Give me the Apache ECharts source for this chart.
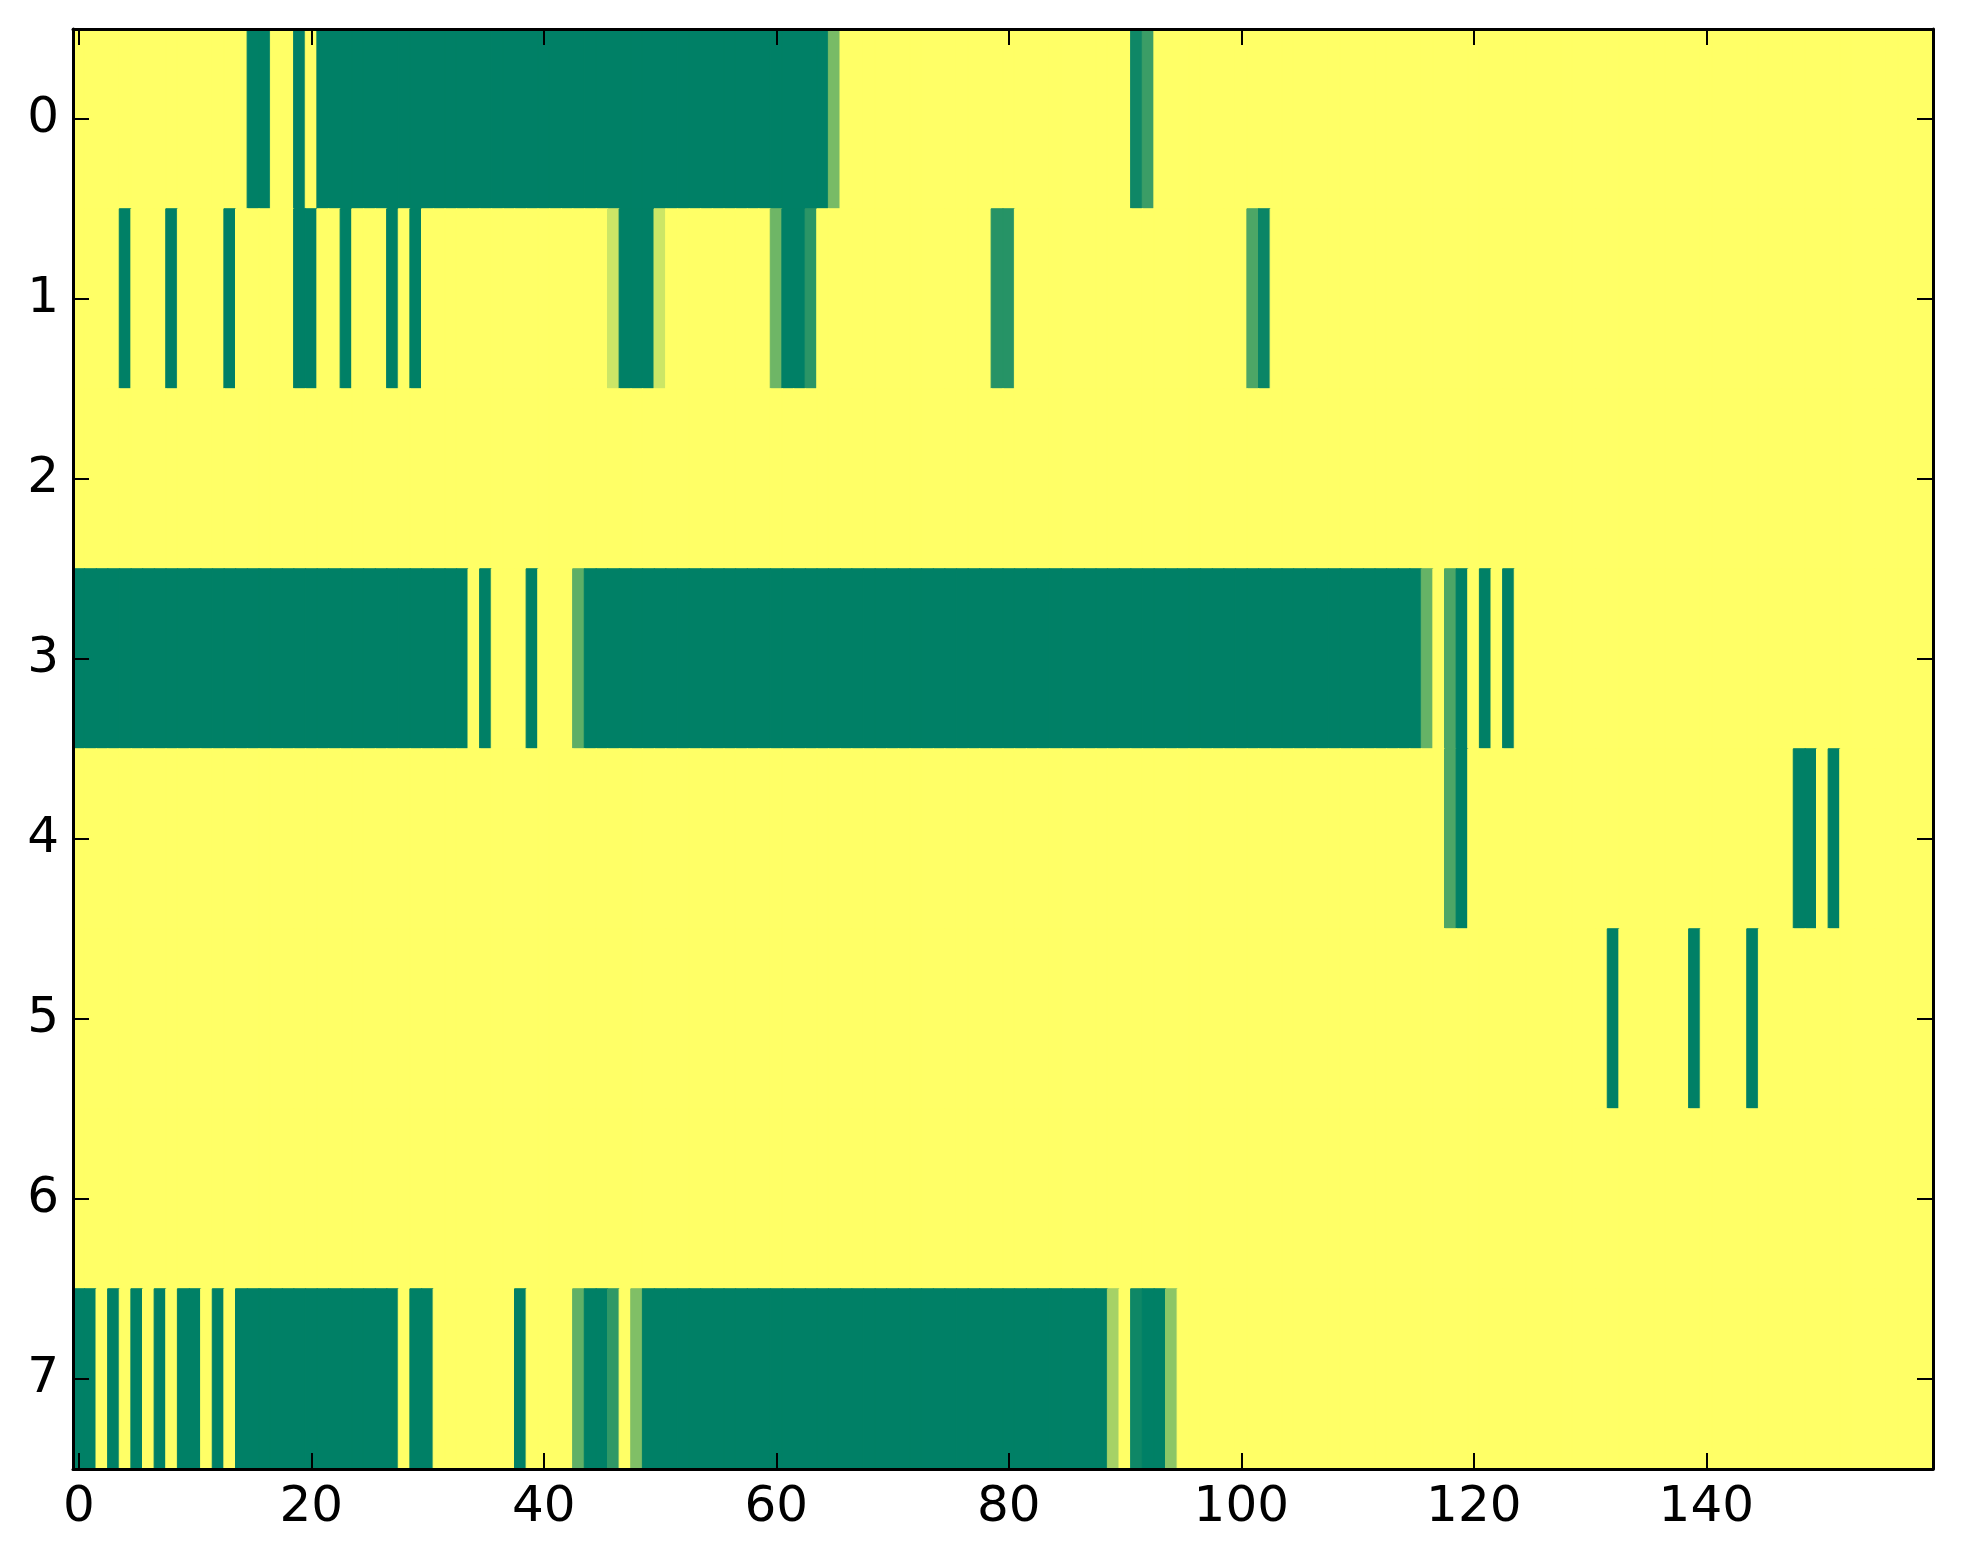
<!DOCTYPE html>
<html>
<head>
<meta charset="utf-8">
<script src="https://cdn.jsdelivr.net/npm/echarts@6/dist/echarts.min.js"></script>
<style>
html,body{margin:0;padding:0;background:#fff;}
#chart{width:1963px;height:1564px;}
</style>
</head>
<body>
<div id="chart"></div>
<script>
// x categories (column indices) and y categories (row indices)
var xCategories = [];
for (var c = 0; c < 160; c++) xCategories.push(String(c));
var yCategories = ['0','1','2','3','4','5','6','7'];
var xTickLabels = [0, 20, 40, 60, 80, 100, 120, 140];

// cell values per row (0 = dark green, 1 = yellow), 160 columns each
var row0 = [
1,1,1,1,1,1,1,1,1,1, 1,1,1,1,1,0,0,1,1,0, 1,0,0,0,0,0,0,0,0,0, 0,0,0,0,0,0,0,0,0,0,
0,0,0,0,0,0,0,0,0,0, 0,0,0,0,0,0,0,0,0,0, 0,0,0,0,0,0.47,1,1,1,1, 1,1,1,1,1,1,1,1,1,1,
1,1,1,1,1,1,1,1,1,1, 1,0.06,0.23,1,1,1,1,1,1,1, 1,1,1,1,1,1,1,1,1,1, 1,1,1,1,1,1,1,1,1,1,
1,1,1,1,1,1,1,1,1,1, 1,1,1,1,1,1,1,1,1,1, 1,1,1,1,1,1,1,1,1,1, 1,1,1,1,1,1,1,1,1,1
];
var row1 = [
1,1,1,1,0,1,1,1,0,1, 1,1,1,0,1,1,1,1,1,0, 0,1,1,0,1,1,1,0,1,0, 1,1,1,1,1,1,1,1,1,1,
1,1,1,1,1,1,0.8,0,0,0, 0.8,1,1,1,1,1,1,1,1,1, 0.43,0,0,0.17,1,1,1,1,1,1, 1,1,1,1,1,1,1,1,1,0.15,
0.15,1,1,1,1,1,1,1,1,1, 1,1,1,1,1,1,1,1,1,1, 1,0.3,0.04,1,1,1,1,1,1,1, 1,1,1,1,1,1,1,1,1,1,
1,1,1,1,1,1,1,1,1,1, 1,1,1,1,1,1,1,1,1,1, 1,1,1,1,1,1,1,1,1,1, 1,1,1,1,1,1,1,1,1,1
];
var row2 = [
1,1,1,1,1,1,1,1,1,1, 1,1,1,1,1,1,1,1,1,1, 1,1,1,1,1,1,1,1,1,1, 1,1,1,1,1,1,1,1,1,1,
1,1,1,1,1,1,1,1,1,1, 1,1,1,1,1,1,1,1,1,1, 1,1,1,1,1,1,1,1,1,1, 1,1,1,1,1,1,1,1,1,1,
1,1,1,1,1,1,1,1,1,1, 1,1,1,1,1,1,1,1,1,1, 1,1,1,1,1,1,1,1,1,1, 1,1,1,1,1,1,1,1,1,1,
1,1,1,1,1,1,1,1,1,1, 1,1,1,1,1,1,1,1,1,1, 1,1,1,1,1,1,1,1,1,1, 1,1,1,1,1,1,1,1,1,1
];
var row3 = [
0,0,0,0,0,0,0,0,0,0, 0,0,0,0,0,0,0,0,0,0, 0,0,0,0,0,0,0,0,0,0, 0,0,0,0,1,0,1,1,1,0,
1,1,1,0.37,0,0,0,0,0,0, 0,0,0,0,0,0,0,0,0,0, 0,0,0,0,0,0,0,0,0,0, 0,0,0,0,0,0,0,0,0,0,
0,0,0,0,0,0,0,0,0,0, 0,0,0,0,0,0,0,0,0,0, 0,0,0,0,0,0,0,0,0,0, 0,0,0,0,0,0,0.4,1,0.3,0,
1,0,1,0,1,1,1,1,1,1, 1,1,1,1,1,1,1,1,1,1, 1,1,1,1,1,1,1,1,1,1, 1,1,1,1,1,1,1,1,1,1
];
var row4 = [
1,1,1,1,1,1,1,1,1,1, 1,1,1,1,1,1,1,1,1,1, 1,1,1,1,1,1,1,1,1,1, 1,1,1,1,1,1,1,1,1,1,
1,1,1,1,1,1,1,1,1,1, 1,1,1,1,1,1,1,1,1,1, 1,1,1,1,1,1,1,1,1,1, 1,1,1,1,1,1,1,1,1,1,
1,1,1,1,1,1,1,1,1,1, 1,1,1,1,1,1,1,1,1,1, 1,1,1,1,1,1,1,1,1,1, 1,1,1,1,1,1,1,1,0.3,0,
1,1,1,1,1,1,1,1,1,1, 1,1,1,1,1,1,1,1,1,1, 1,1,1,1,1,1,1,1,0,0, 1,0,1,1,1,1,1,1,1,1
];
var row5 = [
1,1,1,1,1,1,1,1,1,1, 1,1,1,1,1,1,1,1,1,1, 1,1,1,1,1,1,1,1,1,1, 1,1,1,1,1,1,1,1,1,1,
1,1,1,1,1,1,1,1,1,1, 1,1,1,1,1,1,1,1,1,1, 1,1,1,1,1,1,1,1,1,1, 1,1,1,1,1,1,1,1,1,1,
1,1,1,1,1,1,1,1,1,1, 1,1,1,1,1,1,1,1,1,1, 1,1,1,1,1,1,1,1,1,1, 1,1,1,1,1,1,1,1,1,1,
1,1,1,1,1,1,1,1,1,1, 1,1,0,1,1,1,1,1,1,0, 1,1,1,1,0,1,1,1,1,1, 1,1,1,1,1,1,1,1,1,1
];
var row6 = [
1,1,1,1,1,1,1,1,1,1, 1,1,1,1,1,1,1,1,1,1, 1,1,1,1,1,1,1,1,1,1, 1,1,1,1,1,1,1,1,1,1,
1,1,1,1,1,1,1,1,1,1, 1,1,1,1,1,1,1,1,1,1, 1,1,1,1,1,1,1,1,1,1, 1,1,1,1,1,1,1,1,1,1,
1,1,1,1,1,1,1,1,1,1, 1,1,1,1,1,1,1,1,1,1, 1,1,1,1,1,1,1,1,1,1, 1,1,1,1,1,1,1,1,1,1,
1,1,1,1,1,1,1,1,1,1, 1,1,1,1,1,1,1,1,1,1, 1,1,1,1,1,1,1,1,1,1, 1,1,1,1,1,1,1,1,1,1
];
var row7 = [
0,0,1,0,1,0,1,0,1,0, 0,1,0,1,0,0,0,0,0,0, 0,0,0,0,0,0,0,0,1,0, 0,1,1,1,1,1,1,1,0,1,
1,1,1,0.38,0,0,0.19,1,0.5,0, 0,0,0,0,0,0,0,0,0,0, 0,0,0,0,0,0,0,0,0,0, 0,0,0,0,0,0,0,0,0,0,
0,0,0,0,0,0,0,0,0,0.65, 1,0.06,0,0,0.55,1,1,1,1,1, 1,1,1,1,1,1,1,1,1,1, 1,1,1,1,1,1,1,1,1,1,
1,1,1,1,1,1,1,1,1,1, 1,1,1,1,1,1,1,1,1,1, 1,1,1,1,1,1,1,1,1,1, 1,1,1,1,1,1,1,1,1,1
];

// matplotlib "summer" colormap: linear from (0,0.5,0.4) to (1,1,0.4)
function summer(v) {
  var r = Math.round(255 * v);
  var g = Math.round(255 * (0.5 + 0.5 * v));
  var b = Math.round(255 * 0.4);
  return 'rgb(' + r + ',' + g + ',' + b + ')';
}

var rows = [row0, row1, row2, row3, row4, row5, row6, row7];
var data = [];
for (var r = 0; r < rows.length; r++) {
  for (var i = 0; i < rows[r].length; i++) {
    var col = summer(rows[r][i]);
    data.push({ value: [i, r, rows[r][i]],
                itemStyle: { color: col, borderColor: col, borderWidth: 1 } });
  }
}

var FONT = 'DejaVu Sans';
function isXTick(idx) { return xTickLabels.indexOf(idx) >= 0; }
var axisLineStyle = { show: true, lineStyle: { color: '#000', width: 3 } };
var tickStyle = { color: '#000', width: 2 };

var chart = echarts.init(document.getElementById('chart'), null, { renderer: 'canvas' });
chart.setOption({
  backgroundColor: '#ffffff',
  animation: false,
  grid: { left: 73, top: 29, width: 1860, height: 1440, containLabel: false },
  xAxis: [
    {
      type: 'category', data: xCategories, position: 'bottom', z: 10,
      axisLine: axisLineStyle,
      axisTick: { show: true, inside: true, length: 16, alignWithLabel: true,
                  interval: function (idx) { return isXTick(idx); }, lineStyle: tickStyle },
      axisLabel: { show: true, interval: function (idx) { return isXTick(idx); },
                   color: '#000', fontSize: 50, fontFamily: FONT, margin: 14 },
      splitLine: { show: false }
    },
    {
      type: 'category', data: xCategories, position: 'top', z: 10,
      axisLine: axisLineStyle,
      axisTick: { show: true, inside: true, length: 16, alignWithLabel: true,
                  interval: function (idx) { return isXTick(idx); }, lineStyle: tickStyle },
      axisLabel: { show: false },
      splitLine: { show: false }
    }
  ],
  yAxis: [
    {
      type: 'category', data: yCategories, inverse: true, position: 'left', z: 10,
      axisLine: axisLineStyle,
      axisTick: { show: true, inside: true, length: 16, alignWithLabel: true, interval: 0, lineStyle: tickStyle },
      axisLabel: { show: true, interval: 0, color: '#000', fontSize: 50, fontFamily: FONT, margin: 14 },
      splitLine: { show: false }
    },
    {
      type: 'category', data: yCategories, inverse: true, position: 'right', z: 10,
      axisLine: axisLineStyle,
      axisTick: { show: true, inside: true, length: 16, alignWithLabel: true, interval: 0, lineStyle: tickStyle },
      axisLabel: { show: false },
      splitLine: { show: false }
    }
  ],
  series: [{
    type: 'heatmap', xAxisIndex: 0, yAxisIndex: 0, data: data,
    progressive: 0,
    emphasis: { disabled: true }
  }]
});
</script>
</body>
</html>
